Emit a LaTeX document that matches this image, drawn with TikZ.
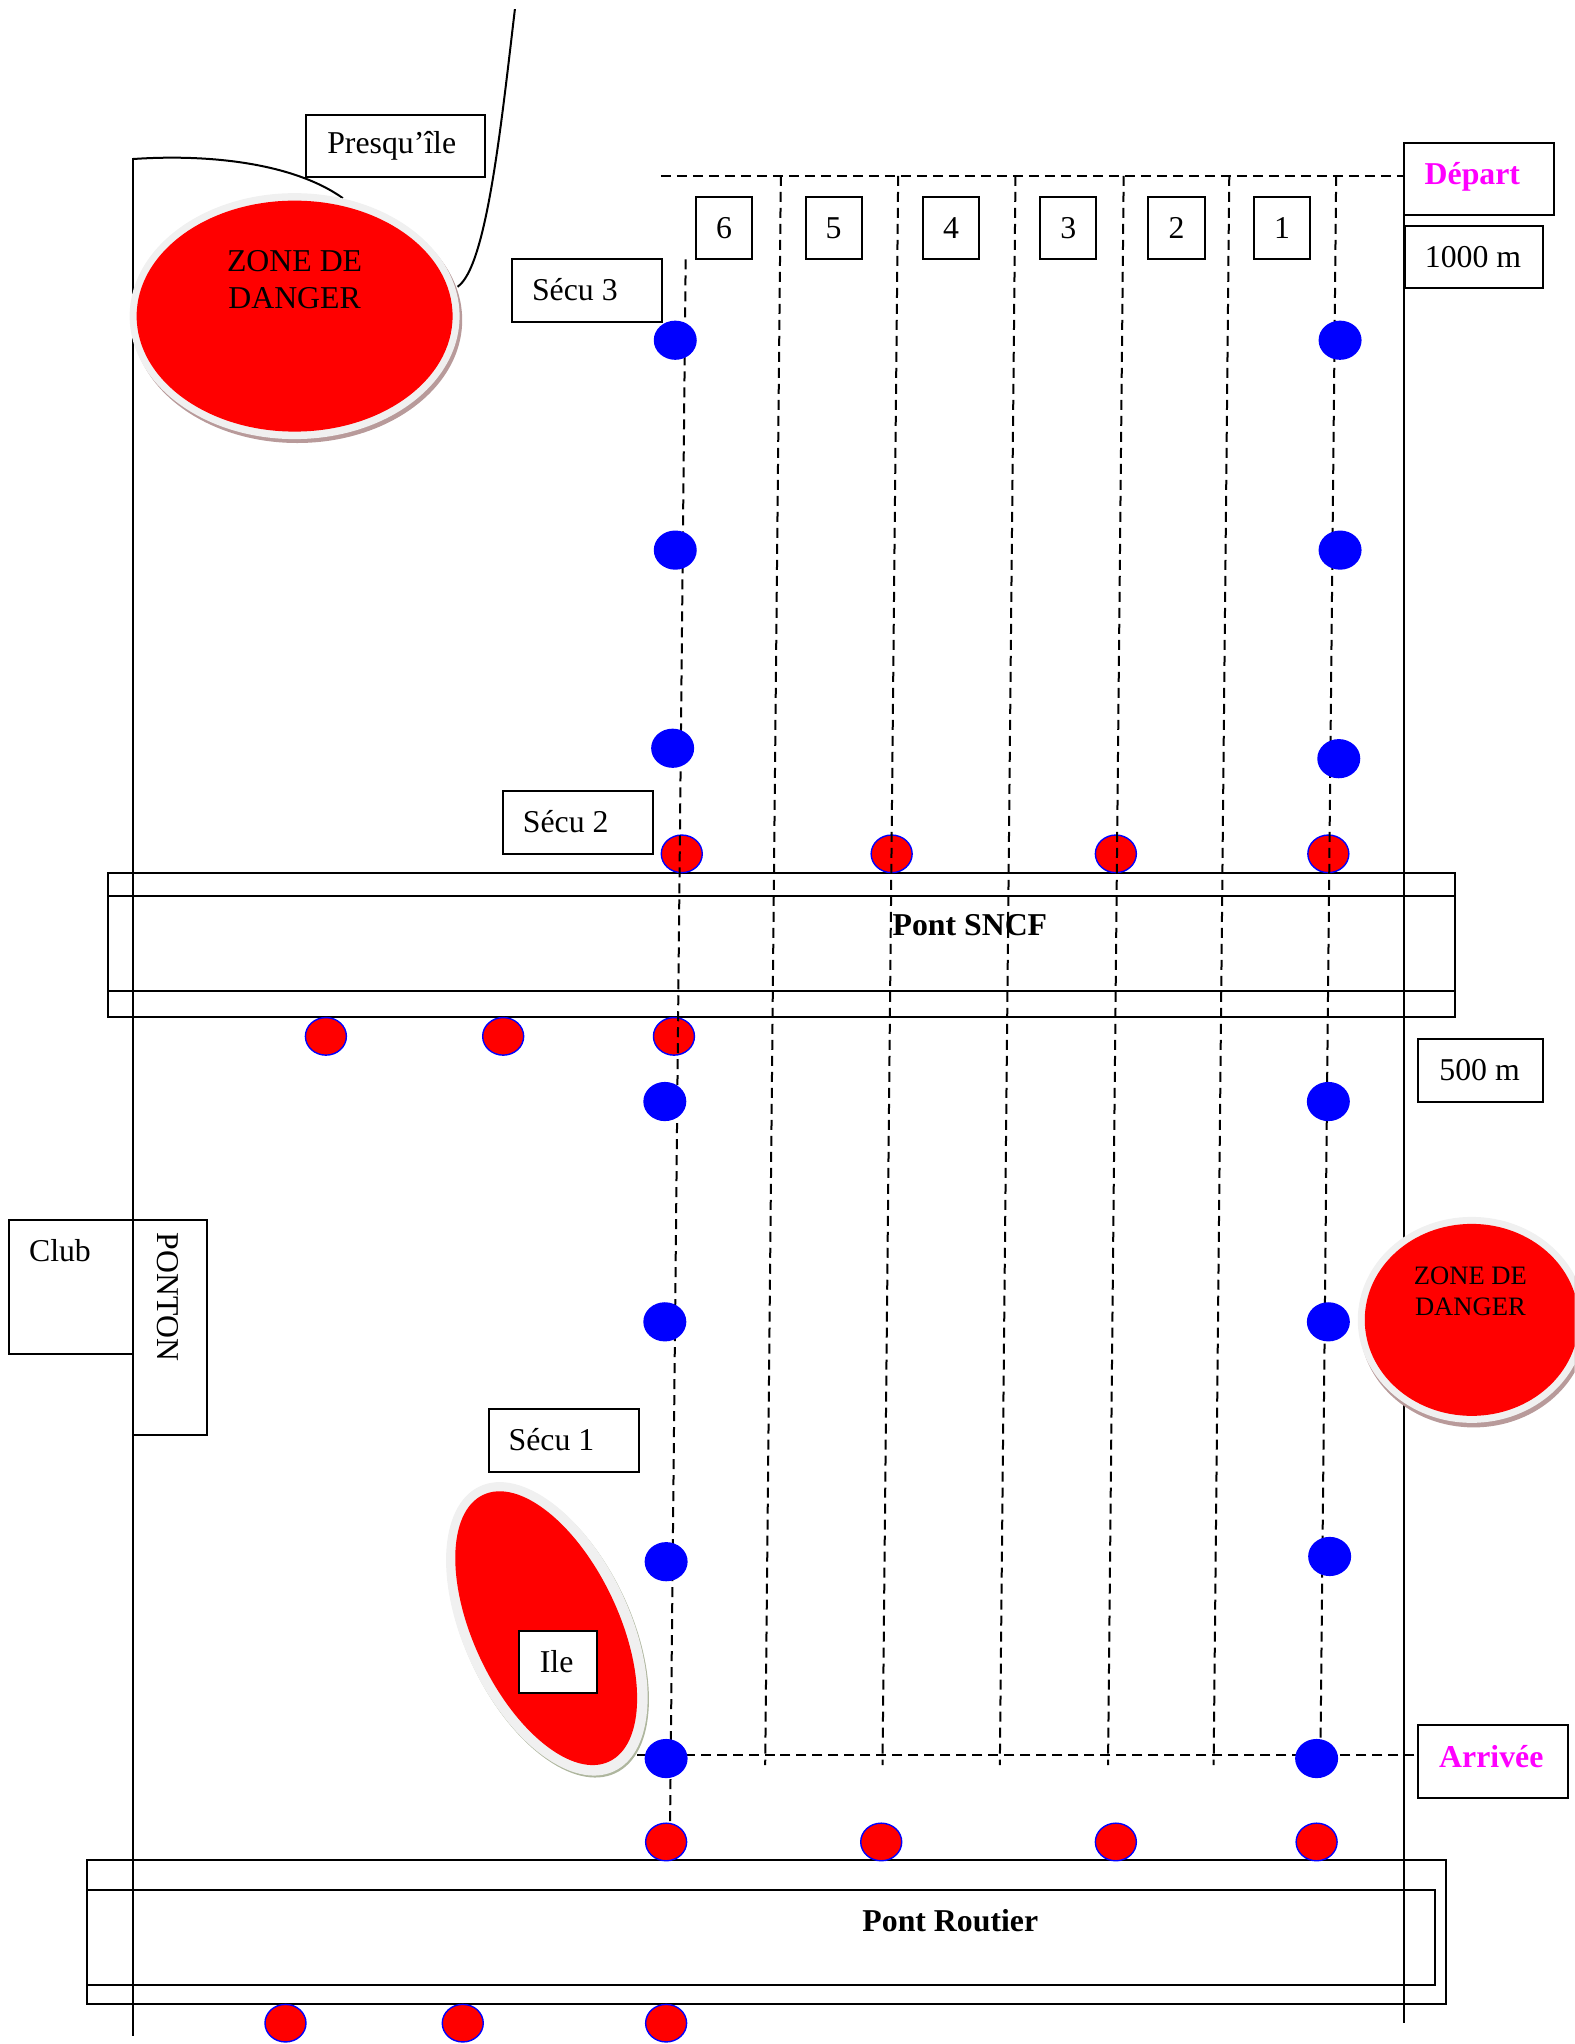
\documentclass[tikz,border=0pt]{standalone}
\usepackage{fontspec}
\setmainfont{Liberation Serif}
\usetikzlibrary{shapes.geometric}
\definecolor{ringgrey}{HTML}{F0F0F0}
\definecolor{shadebrown}{HTML}{B89A9A}
\definecolor{shadeolive}{HTML}{AEB69E}
\definecolor{pureM}{RGB}{255,0,255}
\definecolor{pureR}{RGB}{255,0,0}
\definecolor{pureB}{RGB}{0,0,255}
\tikzset{
  x=0.6519pt,y=-0.6519pt,
  every node/.style={font=\fontsize{15.9}{18.2}\selectfont,inner sep=0pt,text=black},
  boxline/.style={draw=black,line width=1pt,fill=white},
  plain/.style={draw=black,line width=1pt},
  lane/.style={draw=black,line width=1pt,dash pattern=on 5pt off 3pt},
  bluedot/.style={ellipse,fill=pureB,minimum width=21.5pt,minimum height=19.6pt},
  reddot/.style={ellipse,fill=pureR,draw=pureB,line width=0.7pt,minimum width=20.5pt,minimum height=18.8pt},
  magtext/.style={font=\fontsize{15.9}{18.2}\selectfont\bfseries,text=pureM},
  boldtext/.style={font=\fontsize{15.9}{18.2}\selectfont\bfseries},
}
\begin{document}
\begin{tikzpicture}
\useasboundingbox (0,0) rectangle (1208,1568);
\clip (0,0) rectangle (1208,1568);
% banks
\coordinate (leftT) at (102,121); \coordinate (leftB) at (102,1562);
\coordinate (rightT) at (1077,110); \coordinate (rightB) at (1077,1552);
\draw[plain] (leftT) -- (leftB);
\draw[plain] (rightT) -- (rightB);
\coordinate (curveA) at (102,122); \coordinate (curveB) at (263,152);
\coordinate (curveC) at (395,7); \coordinate (curveD) at (351,220);
\draw[plain] (curveA) .. controls (160,118) and (225,125) .. (curveB);
\draw[plain] (curveC) .. controls (384,100) and (373,205) .. (curveD);
% bridge outlines
\draw[plain] (83,670) rectangle (1116,780);
\draw[plain] (83,687) -- (1116,687);
\draw[plain] (83,760) -- (1116,760);
\draw[plain] (67,1427) rectangle (1109,1537);
\draw[plain] (67,1450) rectangle (1101,1523);
% red markers
\foreach \n/\x/\y in {a/523/655,b/684/655,c/856/655,d/1019/655,
  e/250/795,f/386/795,g/517/795,
  h/511/1413,i/676/1413,j/856/1413,k/1010/1413,
  l/219/1552,m/355/1552,n/511/1552}
  \node[reddot] (r\n) at (\x,\y) {};
% bridge names
\node[boldtext] (sncf) at (744,710) {Pont SNCF};
\node[boldtext] (routier) at (729,1473) {Pont Routier};
% lanes
\coordinate (topL) at (507,135); \coordinate (topR) at (1077,135);
\coordinate (botL) at (473,1346); \coordinate (botR) at (1085,1346);
\draw[lane] (topL) -- (topR);
\draw[lane] (botR) -- (botL);
\foreach \n/\a/\ay/\b/\by in {s/526/199/514/1400,t/599/135/587/1354,u/689/135/677/1354,
  v/779/135/767/1354,w/862/135/850/1354,y/943/135/931/1354,z/1025/135/1013/1340}{
  \coordinate (\n T) at (\a,\ay); \coordinate (\n B) at (\b,\by);
  \draw[lane] (\n T) -- (\n B);
}
% blue markers
\foreach \n/\x/\y in {a/518/261,b/518/422,c/516/574,d/510/845,e/510/1014,f/511/1198,g/511/1349,
  h/1028/261,i/1028/422,j/1027/582,k/1019/845,l/1019/1014,m/1020/1194,n/1010/1349}
  \node[bluedot] (b\n) at (\x,\y) {};
% danger zones
\node[ellipse,fill=shadebrown,minimum width=165pt,minimum height=123pt] (z1s) at (228,245.5) {};
\node[ellipse,fill=ringgrey,minimum width=165pt,minimum height=123pt] (z1r) at (226,242.5) {};
\node[ellipse,fill=pureR,minimum width=158pt,minimum height=115.5pt] (z1) at (226,242.5) {};
\node[align=center,font=\fontsize{15.9}{18.3}\selectfont] (z1t) at (226,214.5) {ZONE DE\\DANGER};
\node[ellipse,fill=shadebrown,minimum width=114pt,minimum height=103pt] (z2s) at (1130.5,1016) {};
\node[ellipse,fill=ringgrey,minimum width=114pt,minimum height=103pt] (z2r) at (1129,1012.5) {};
\node[ellipse,fill=pureR,minimum width=107pt,minimum height=96pt] (z2) at (1129,1012.5) {};
\node[align=center,font=\fontsize{13.3}{15.6}\selectfont] (z2t) at (1128,990.5) {ZONE DE\\DANGER};
% island
\node[ellipse,rotate=-64.7,fill=shadeolive,minimum width=157.5pt,minimum height=83pt] (ils) at (420.5,1251) {};
\node[ellipse,rotate=-64.7,fill=ringgrey,minimum width=157.5pt,minimum height=83pt] (ilr) at (419.5,1249.5) {};
\node[ellipse,rotate=-64.7,fill=pureR,minimum width=147.5pt,minimum height=72.5pt] (il) at (419,1249) {};
% labelled boxes
\draw[boxline] (235,88) rectangle (372,136);   \node (presq) at (300.5,112) {Presqu’île};
\draw[boxline] (393,199) rectangle (508,247);  \node (secu3) at (441,222.5) {Sécu 3};
\draw[boxline] (386,607) rectangle (501,655);  \node (secu2) at (434,630.5) {Sécu 2};
\draw[boxline] (375,1081) rectangle (490,1129);\node (secu1) at (423,1104.5) {Sécu 1};
\draw[boxline] (398,1251) rectangle (458,1299);\node (ile) at (427,1275) {Ile};
\draw[boxline] (534,151) rectangle (577,199);  \node (n6) at (555.5,175) {6};
\draw[boxline] (618,151) rectangle (661,199);  \node (n5) at (639.5,175) {5};
\draw[boxline] (708,151) rectangle (751,199);  \node (n4) at (729.5,175) {4};
\draw[boxline] (798,151) rectangle (841,199);  \node (n3) at (819.5,175) {3};
\draw[boxline] (881,151) rectangle (924,199);  \node (n2) at (902.5,175) {2};
\draw[boxline] (962,151) rectangle (1005,199); \node (n1) at (983.5,175) {1};
\draw[boxline] (1077,110) rectangle (1192,165);\node[magtext] (dep) at (1129.5,135.5) {Départ};
\draw[boxline] (1078,173) rectangle (1184,221);\node (m1000) at (1130,197) {1000 m};
\draw[boxline] (1088,797) rectangle (1184,845);\node (m500) at (1135,820.5) {500 m};
\draw[boxline] (1088,1323) rectangle (1203,1379);\node[magtext] (arr) at (1144,1347.5) {Arrivée};
\draw[boxline] (7,936) rectangle (102,1039);   \node (club) at (46,959.5) {Club};
\draw[boxline] (102,936) rectangle (159,1101); \node[rotate=-90] (ponton) at (129,995) {PONTON};
\end{tikzpicture}
\end{document}
